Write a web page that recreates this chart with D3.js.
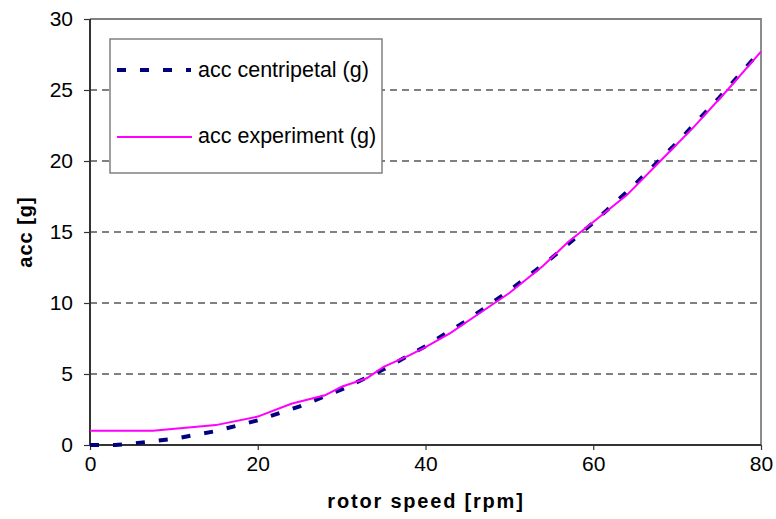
<!DOCTYPE html>
<html>
<head>
<meta charset="utf-8">
<script src="https://cdn.jsdelivr.net/npm/d3@7"></script>
<style>
  body { margin: 0; background: #fff; }
  text { font-family: "Liberation Sans", Arial, sans-serif; }
</style>
</head>
<body>
<div id="chart"></div>
<script>
// values
var speedCentripetal = [0, 3, 5, 10, 15, 20, 25, 30, 35, 40, 45, 50, 55, 60, 65, 70, 75, 80];
var accCentripetal   = [0, 0, 0.1, 0.43, 0.98, 1.74, 2.72, 3.91, 5.33, 6.96, 8.8, 10.87, 13.15, 15.65, 18.37, 21.3, 24.45, 27.8];

var speedExperiment = [0, 7.5, 15, 20, 24, 26, 28, 30, 33, 35, 38, 40, 43, 46, 50, 54, 57, 60, 64, 68, 72, 76, 80];
var accExperiment   = [1.0, 1.0, 1.4, 2.0, 2.9, 3.2, 3.5, 4.1, 4.7, 5.5, 6.3, 6.9, 7.9, 9.1, 10.7, 12.6, 14.3, 15.7, 17.6, 20.0, 22.4, 25.0, 27.7];

var xTicks = [0, 20, 40, 60, 80];
var yTicks = [0, 5, 10, 15, 20, 25, 30];
var seriesNames = ["acc centripetal (g)", "acc experiment (g)"];

var W = 776, H = 519;
var plotLeft = 90, plotRight = 761, plotTop = 19, plotBottom = 445;

var svg = d3.select("#chart").append("svg")
  .attr("width", W)
  .attr("height", H);

var x = d3.scaleLinear().domain([0, 80]).range([plotLeft, plotRight]);
var y = d3.scaleLinear().domain([0, 30]).range([plotBottom, plotTop]);

// dashed grid
svg.append("g").selectAll("line")
  .data(yTicks.filter(function(d) { return d > 0 && d < 30; }))
  .enter().append("line")
    .attr("x1", plotLeft).attr("x2", plotRight)
    .attr("y1", function(d) { return y(d); })
    .attr("y2", function(d) { return y(d); })
    .attr("stroke", "#808080")
    .attr("stroke-width", 2)
    .attr("stroke-dasharray", "7,5");

// top and right frame
svg.append("path")
  .attr("d", "M" + plotLeft + "," + y(30) + "H" + plotRight + "V" + plotBottom)
  .attr("fill", "none")
  .attr("stroke", "#808080")
  .attr("stroke-width", 1.8);

// axes
var xAxis = svg.append("g")
  .attr("transform", "translate(0," + plotBottom + ")")
  .call(d3.axisBottom(x).tickValues(xTicks).tickSize(5).tickPadding(6));
var yAxis = svg.append("g")
  .attr("transform", "translate(" + plotLeft + ",0)")
  .call(d3.axisLeft(y).tickValues(yTicks).tickSize(6).tickPadding(11));

[xAxis, yAxis].forEach(function(a) {
  a.select(".domain").attr("stroke", "#333").attr("stroke-width", 2);
  a.selectAll(".tick line").attr("stroke", "#333").attr("stroke-width", 1.2);
  a.selectAll(".tick text")
    .attr("fill", "#000")
    .style("font-size", "21px")
    .style("font-family", "'Liberation Sans', Arial, sans-serif");
});
yAxis.select(".domain").attr("d", "M0," + y(30) + "V" + plotBottom);
xAxis.select(".domain").attr("d", "M" + plotLeft + ",0H" + plotRight);

// axis titles
svg.append("text")
  .attr("x", 426).attr("y", 508)
  .attr("text-anchor", "middle")
  .style("font-size", "20px").style("font-weight", "bold")
  .style("letter-spacing", "1.8px")
  .text("rotor speed [rpm]");
svg.append("text")
  .attr("transform", "translate(32,232) rotate(-90)")
  .attr("text-anchor", "middle")
  .style("font-size", "20px").style("font-weight", "bold")
  .style("letter-spacing", "1px")
  .text("acc [g]");

var line = d3.line()
  .x(function(d) { return x(d[0]); })
  .y(function(d) { return y(d[1]); });

var centripetal = speedCentripetal.map(function(s, i) { return [s, accCentripetal[i]]; });
var experiment = speedExperiment.map(function(s, i) { return [s, accExperiment[i]]; });

svg.append("path")
  .datum(centripetal)
  .attr("d", line)
  .attr("fill", "none")
  .attr("stroke", "#000080")
  .attr("stroke-width", 4)
  .attr("stroke-dasharray", "9,14");

svg.append("path")
  .datum(experiment)
  .attr("d", line)
  .attr("fill", "none")
  .attr("stroke", "#ff00ff")
  .attr("stroke-width", 2);

// legend
var legend = svg.append("g");
legend.append("rect")
  .attr("x", 110).attr("y", 39)
  .attr("width", 272).attr("height", 134)
  .attr("fill", "#fff")
  .attr("stroke", "#808080")
  .attr("stroke-width", 1.5);

legend.append("line")
  .attr("x1", 117).attr("x2", 191).attr("y1", 70).attr("y2", 70)
  .attr("stroke", "#000080").attr("stroke-width", 4)
  .attr("stroke-dasharray", "9,14");
legend.append("line")
  .attr("x1", 117).attr("x2", 192).attr("y1", 137).attr("y2", 137)
  .attr("stroke", "#ff00ff").attr("stroke-width", 2);

legend.selectAll("text.lbl")
  .data(seriesNames)
  .enter().append("text")
    .attr("class", "lbl")
    .attr("x", 198)
    .attr("y", function(d, i) { return i === 0 ? 77 : 143; })
    .style("font-size", "21.5px")
    .text(function(d) { return d; });
</script>
</body>
</html>
